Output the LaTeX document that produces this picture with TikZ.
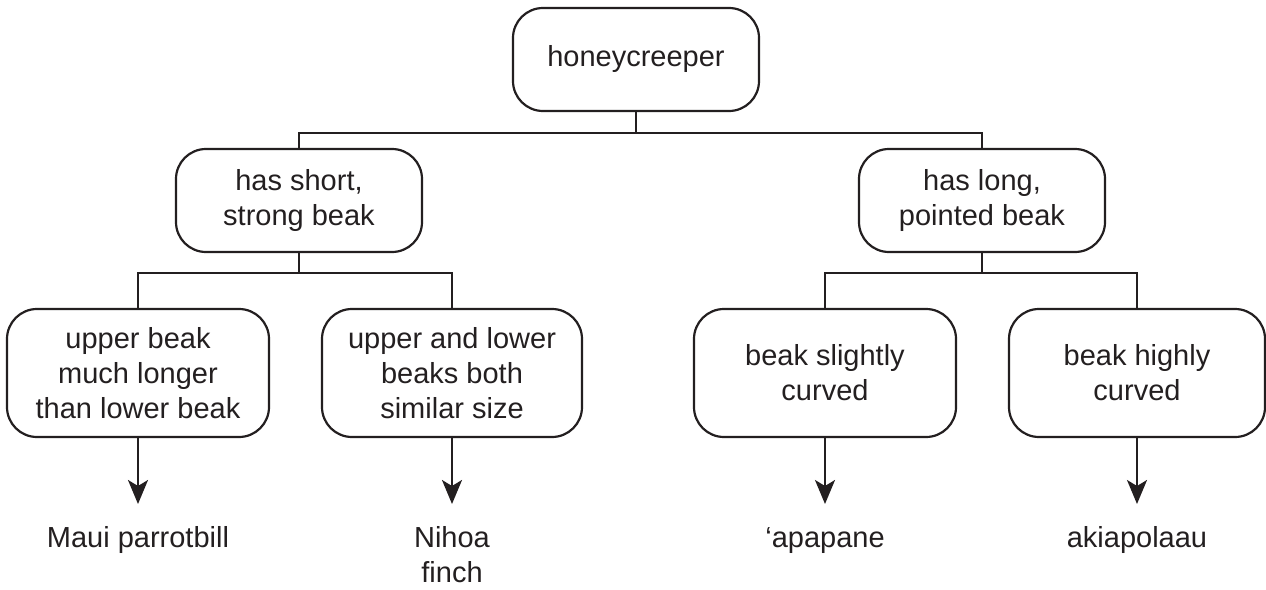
\documentclass[tikz,border=0pt]{standalone}
\usepackage{fontspec}
\setmainfont{Liberation Sans}
\usetikzlibrary{arrows.meta}
\definecolor{ink}{HTML}{231F20}
\begin{document}
\begin{tikzpicture}[x=1pt,y=-1pt,
  font=\fontsize{29}{35}\selectfont,
  conn/.style={draw=ink, line width=2.2pt},
  box/.style={draw=ink, line width=2.2pt, rounded corners=30pt, align=center,
    inner sep=0pt, text=ink, minimum height=103pt, minimum width=246pt},
  leafbox/.style={box, minimum height=128pt},
  leaflabel/.style={anchor=base, align=center, inner sep=0pt, text=ink},
  arr/.style={conn, -{Stealth[length=24pt,width=20pt,inset=6pt]}}]
\useasboundingbox (0,0) rectangle (1266,589);

\node[box] (root) at (636,59.5) {honeycreeper};
\node[box] (L) at (299,200.5) {has short,\\strong beak};
\node[box] (R) at (982,200.5) {has long,\\pointed beak};

\node[leafbox, minimum width=262pt] (A) at (138,373) {upper beak\\much longer\\than lower beak};
\node[leafbox, minimum width=260pt] (B) at (452,373) {upper and lower\\beaks both\\similar size};
\node[leafbox, minimum width=262pt] (C) at (825,373) {beak slightly\\curved};
\node[leafbox, minimum width=256pt] (D) at (1137,373) {beak highly\\curved};

\node[leaflabel] (la) at (138,547) {Maui parrotbill};
\node[leaflabel] (lb) at (452,582) {Nihoa\\finch};
\node[leaflabel] (lc) at (825,547) {‘apapane};
\node[leaflabel] (ld) at (1137,547) {akiapolaau};

\coordinate (tA) at (138,504);
\coordinate (tB) at (452,504);
\coordinate (tC) at (825,504);
\coordinate (tD) at (1137,504);

\draw[conn] (root.south) -- (root.south |- 0,133) -| (L.north);
\draw[conn] (root.south |- 0,133) -| (R.north);
\draw[conn] (L.south) -- (L.south |- 0,273) -| (A.north);
\draw[conn] (L.south |- 0,273) -| (B.north);
\draw[conn] (R.south) -- (R.south |- 0,273) -| (C.north);
\draw[conn] (R.south |- 0,273) -| (D.north);

\draw[arr] (A.south) -- (tA);
\draw[arr] (B.south) -- (tB);
\draw[arr] (C.south) -- (tC);
\draw[arr] (D.south) -- (tD);
\end{tikzpicture}
\end{document}
